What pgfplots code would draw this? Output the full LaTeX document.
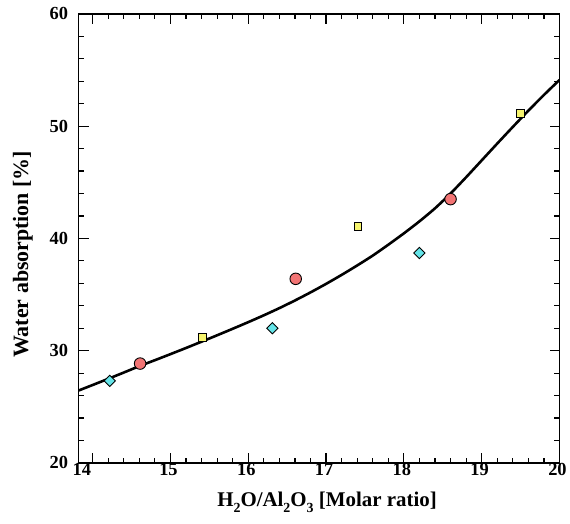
\documentclass[border=0pt]{standalone}
\usepackage{fontspec}
\setmainfont{Liberation Serif}
\usepackage{pgfplots}
\pgfplotsset{compat=1.18}
\definecolor{cyanm}{RGB}{100,228,232}
\definecolor{redm}{RGB}{242,116,116}
\definecolor{yelm}{RGB}{246,244,110}
\newcommand{\sub}[1]{\raisebox{-0.28em}{\fontsize{14}{14}\selectfont #1}}
\begin{document}
\begin{tikzpicture}
\begin{axis}[
  scale only axis,
  width=483pt, height=451pt,
  xmin=13.82, xmax=20, ymin=20, ymax=60,
  xtick={14,15,...,20}, ytick={20,30,...,60},
  xticklabels={\makebox[18pt][l]{\hspace*{-9pt}14},15,16,17,18,19,20},
  minor x tick num=4, minor y tick num=4,
  tick align=inside, tick pos=both,
  major tick length=10pt, minor tick length=5pt,
  every tick/.style={black, line width=1.2pt},
  axis line style={line width=1.5pt},
  /pgf/number format/assume math mode=true,
  ticklabel style={font=\fontsize{18.5}{20}\selectfont\bfseries},
  xticklabel style={yshift=3pt, xshift=-2pt},
  yticklabel style={xshift=-7pt},
  xlabel={H\sub{2}O/Al\sub{2}O\sub{3} [Molar ratio]},
  ylabel={Water absorption [\%]},
  xlabel style={font=\fontsize{21}{24}\selectfont\bfseries, at={(axis description cs:0.5,0)}, anchor=base, yshift=-44pt, xshift=8pt},
  ylabel style={font=\fontsize{22}{24}\selectfont\bfseries, at={(axis description cs:0,0.5)}, anchor=center, yshift=56pt, xshift=-16pt},
  clip=true,
]
\addplot[black, line width=2.6pt, smooth, tension=0.4] coordinates {
(13.82,26.45) (14.0,26.94) (14.2,27.49) (14.4,28.05) (14.6,28.62)
(14.8,29.15) (15.0,29.69) (15.2,30.24) (15.4,30.80) (15.6,31.37)
(15.8,31.95) (16.0,32.54) (16.2,33.15) (16.4,33.79) (16.6,34.47)
(16.8,35.19) (17.0,35.95) (17.2,36.75) (17.4,37.59) (17.6,38.47)
(17.8,39.44) (18.0,40.45) (18.2,41.52) (18.4,42.68) (18.6,44.0)
(18.8,45.45) (19.0,46.95) (19.2,48.45) (19.4,49.93) (19.6,51.38)
(19.8,52.78) (20.0,54.12)
};
\addplot[only marks, mark=square*, mark size=4pt, mark options={rotate=45, fill=cyanm, draw=black, line width=0.9pt}] coordinates {
(14.22,27.3) (16.31,32.0) (18.20,38.7)
};
\addplot[only marks, mark=*, mark size=5.8pt, mark options={fill=redm, draw=black, line width=0.9pt}] coordinates {
(14.61,28.85) (16.61,36.4) (18.60,43.5)
};
\addplot[only marks, mark=square*, mark size=4pt, mark options={fill=yelm, draw=black, line width=0.9pt}] coordinates {
(15.41,31.2) (17.41,41.1) (19.50,51.1)
};
\coordinate (SW) at (rel axis cs:0,0);
\coordinate (NE) at (rel axis cs:1,1);
\end{axis}
\path (SW) ++(-79pt,-61pt) coordinate (BL);
\path (NE) ++(8pt,14pt) coordinate (TR);
\path (BL) rectangle (TR);
\end{tikzpicture}
\end{document}
